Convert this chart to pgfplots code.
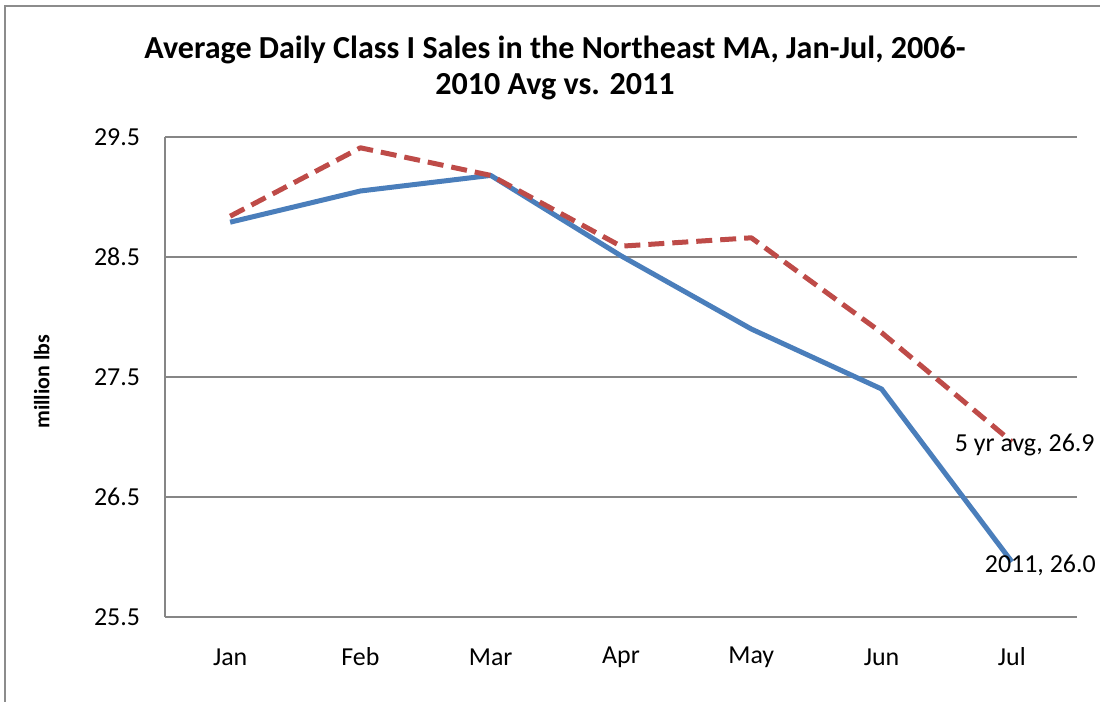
\documentclass[border=0pt]{standalone}
\usepackage{pgfplots}
\pgfplotsset{compat=1.18}
\usepackage{fontspec}
\setmainfont{Carlito}
\definecolor{bl}{HTML}{4A7EBB}
\definecolor{rd}{HTML}{BE4B48}
\definecolor{gr}{HTML}{868686}
\definecolor{fr}{HTML}{8C8C8C}
\begin{document}
\begin{tikzpicture}
\useasboundingbox (0,0) rectangle (550bp,351bp);
\draw[fr, line width=1.2bp] (2.5bp,0) -- (2.5bp,348bp) -- (550bp,348bp);
\node[font=\fontsize{16.1}{18.5}\selectfont\bfseries, align=center] at (277.5bp,317bp)
  {Average Daily Class I Sales in the Northeast MA, Jan-Jul, 2006-\\2010 Avg vs. 2011};
\begin{axis}[
  at={(82.5bp,42.5bp)}, anchor=south west,
  scale only axis, width=456bp, height=240bp,
  xmin=0.5, xmax=7.5, ymin=25.5, ymax=29.5,
  xtick={1,...,7},
  xticklabels={Jan,Feb,Mar,Apr,May,Jun,Jul},
  ytick={25.5,26.5,27.5,28.5,29.5},
  yticklabels={25.5,26.5,27.5,28.5,29.5},
  major tick length=0pt,
  axis x line*=bottom, axis y line*=left,
  axis line style={gr, line width=0.6bp},
  ymajorgrids, grid style={gr, line width=0.6bp},
  every axis plot/.append style={line width=2.5bp, line join=round},
  tick label style={font=\fontsize{13}{15}\selectfont},
  yticklabel style={anchor=east, xshift=-9bp},
  xticklabel style={anchor=center, yshift=-20bp},
  ylabel={million lbs},
  ylabel style={font=\fontsize{11}{13}\selectfont\bfseries, at={(axis description cs:-0.135,0.49)}, anchor=center},
  clip=false,
]
\addplot[bl] coordinates {(1,28.79) (2,29.05) (3,29.18) (4,28.51) (5,27.90) (6,27.40) (7,25.96)};
\addplot[rd, dash pattern=on 8bp off 4bp] coordinates {(1,28.84) (2,29.41) (3,29.18) (4,28.59) (5,28.66) (6,27.87) (7,26.96)};
\node[anchor=west, font=\fontsize{13}{15}\selectfont, inner sep=0pt] at (axis cs:6.56,26.93) {5 yr avg, 26.9};
\node[anchor=west, font=\fontsize{13}{15}\selectfont, inner sep=0pt] at (axis cs:6.79,25.93) {2011, 26.0};
\end{axis}
\end{tikzpicture}
\end{document}
